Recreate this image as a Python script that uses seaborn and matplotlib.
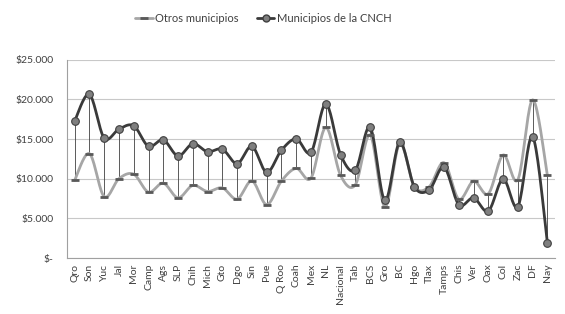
import numpy as np
import pandas as pd
import matplotlib
matplotlib.use("Agg")
import matplotlib.pyplot as plt
import seaborn as sns
from matplotlib.ticker import FuncFormatter
from matplotlib.lines import Line2D

estados = ["Qro", "Son", "Yuc", "Jal", "Mor", "Camp", "Ags", "SLP", "Chih", "Mich",
           "Gto", "Dgo", "Sin", "Pue", "Q Roo", "Coah", "Mex", "NL", "Nacional", "Tab",
           "BCS", "Gro", "BC", "Hgo", "Tlax", "Tamps", "Chis", "Ver", "Oax", "Col",
           "Zac", "DF", "Nay"]
cnch = [17250, 20620, 15130, 16260, 16670, 14080, 14890, 12870, 14410, 13400,
        13720, 11900, 14080, 10810, 13600, 15010, 13320, 19410, 13030, 11100,
        16460, 7260, 14570, 8960, 8600, 11460, 6740, 7590, 5930, 9970,
        6500, 15290, 1860]
otros = [9800, 13160, 7750, 10010, 10570, 8310, 9440, 7590, 9160, 8390,
         8840, 7430, 9720, 6740, 9720, 11300, 10090, 16460, 10410, 9240,
         15500, 6460, 14400, 9000, 9000, 12020, 7430, 9690, 8110, 12990,
         9890, 19940, 10410]

df = pd.DataFrame({"estado": estados, "cnch": cnch, "otros": otros})
df["pos"] = np.arange(len(df))


# excel-style smoothed line (bezier with 1/6 tangents)
def suavizar(x, y, n=20):
    x = np.asarray(x, float)
    y = np.asarray(y, float)
    xs, ys = [], []
    for i in range(len(x) - 1):
        i0 = max(i - 1, 0)
        i3 = min(i + 2, len(x) - 1)
        p0 = np.array([x[i], y[i]])
        p3 = np.array([x[i + 1], y[i + 1]])
        c1 = p0 + (p3 - np.array([x[i0], y[i0]])) / 6
        c2 = p3 - (np.array([x[i3], y[i3]]) - p0) / 6
        t = np.linspace(0, 1, n)[:, None]
        b = (1 - t) ** 3 * p0 + 3 * (1 - t) ** 2 * t * c1 + 3 * (1 - t) * t ** 2 * c2 + t ** 3 * p3
        xs.extend(b[:, 0])
        ys.extend(b[:, 1])
    return pd.DataFrame({"x": xs, "y": ys})


sns.set_style("white")
plt.rcParams["font.family"] = ["Lato", "DejaVu Sans"]

fig, ax = plt.subplots(figsize=(5.65, 3.14), dpi=100)
fig.subplots_adjust(left=0.119, right=0.982, top=0.81, bottom=0.178)

# drop lines
ax.vlines(df["pos"], df[["cnch", "otros"]].min(axis=1), df[["cnch", "otros"]].max(axis=1),
          color="#404040", lw=0.6, zorder=2)

s_otros = suavizar(df["pos"], df["otros"])
s_cnch = suavizar(df["pos"], df["cnch"])
sns.lineplot(data=s_otros, x="x", y="y", ax=ax, color="#a6a6a6", lw=2.0, sort=False, zorder=3)
sns.lineplot(data=s_cnch, x="x", y="y", ax=ax, color="#3a3a3a", lw=2.0, sort=False, zorder=4)
ax.plot(df["pos"], df["otros"], ls="none", marker="_", ms=6, mew=2, color="#595959", zorder=5)
ax.plot(df["pos"], df["cnch"], ls="none", marker="o", ms=5.5, mfc="#7f7f7f", mec="#404040",
        mew=0.8, zorder=6)

ax.set_ylim(0, 25000)
ax.set_xlim(-0.5, len(df) - 0.5)
ax.set_yticks(np.arange(0, 25001, 5000))
ax.yaxis.set_major_formatter(FuncFormatter(
    lambda v, p: "$-" if v == 0 else "$" + f"{int(v):,}".replace(",", ".")))
ax.set_xticks(df["pos"])
ax.set_xticklabels(df["estado"], rotation=90)
ax.tick_params(axis="both", labelsize=7.5, colors="#404040")
ax.tick_params(axis="y", length=4, color="#a0a0a0", width=0.8, pad=6)
ax.tick_params(axis="x", length=0, pad=4)
ax.grid(axis="y", color="#c8c8c8", lw=0.8)
ax.set_axisbelow(True)
ax.set_xlabel("")
ax.set_ylabel("")
for side in ["top", "right"]:
    ax.spines[side].set_visible(False)
for side in ["left", "bottom"]:
    ax.spines[side].set_color("#a0a0a0")
    ax.spines[side].set_linewidth(0.8)

handles = [
    Line2D([], [], color="#a6a6a6", lw=2, marker="_", ms=6, mew=2, mec="#595959"),
    Line2D([], [], color="#3a3a3a", lw=2, marker="o", ms=5, mfc="#7f7f7f", mec="#404040"),
]
fig.legend(handles, ["Otros municipios", "Municipios de la CNCH"], loc="upper center",
           bbox_to_anchor=(0.466, 0.99), ncol=2, frameon=False, fontsize=8,
           handlelength=1.6, handletextpad=0.2, columnspacing=1.6, labelcolor="#404040")

plt.savefig("out.png", dpi=100)
